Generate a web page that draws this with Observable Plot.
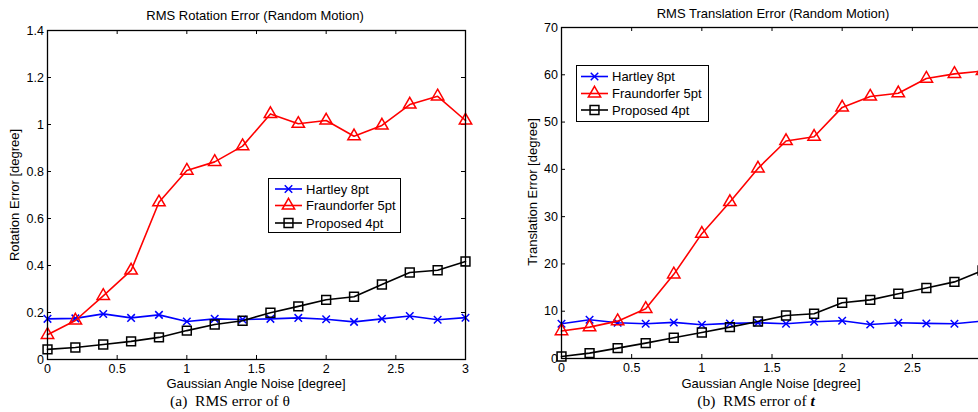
<!DOCTYPE html>
<html>
<head>
<meta charset="utf-8">
<script src="https://cdn.jsdelivr.net/npm/d3@7"></script>
<script src="https://cdn.jsdelivr.net/npm/@observablehq/plot@0.6"></script>
<style>
  html, body { margin: 0; padding: 0; background: #fff; }
  #root { position: relative; width: 978px; height: 412px; overflow: hidden; background: #fff;
          font-family: "Liberation Sans", Arial, Helvetica, sans-serif; color: #000; }
  .abs { position: absolute; white-space: nowrap; transform: translate(-50%, -50%); }
  .t13 { font-size: 13px; }
  .ylab { transform: translate(-50%, -50%) rotate(-90deg); }
  .cap { font-family: "Liberation Serif", "Times New Roman", serif; font-size: 15.5px; }
  .legend { position: absolute; border: 1px solid #000; background: #fff; box-sizing: border-box; }
  .panel { position: absolute; top: 0; }
</style>
</head>
<body>
<div id="root"></div>
<script>
// ---- data ----
const noise = [0, 0.2, 0.4, 0.6, 0.8, 1.0, 1.2, 1.4, 1.6, 1.8, 2.0, 2.2, 2.4, 2.6, 2.8, 3.0];
const seriesNames = ["Hartley 8pt", "Fraundorfer 5pt", "Proposed 4pt"];

const rotHartley     = [0.173, 0.175, 0.194, 0.177, 0.190, 0.162, 0.173, 0.170, 0.173, 0.177, 0.171, 0.160, 0.173, 0.185, 0.169, 0.178];
const rotFraundorfer = [0.105, 0.166, 0.271, 0.379, 0.669, 0.804, 0.841, 0.908, 1.045, 1.003, 1.017, 0.950, 0.996, 1.085, 1.120, 1.017];
const rotProposed    = [0.043, 0.051, 0.064, 0.077, 0.094, 0.123, 0.149, 0.165, 0.199, 0.226, 0.254, 0.267, 0.319, 0.370, 0.380, 0.417];

const transHartley     = [7.35, 8.2, 7.56, 7.35, 7.63, 7.13, 7.42, 7.56, 7.35, 7.77, 7.98, 7.2, 7.56, 7.42, 7.35, 7.9];
const transFraundorfer = [5.8, 6.64, 7.9, 10.5, 17.8, 26.4, 33.1, 40.2, 46.0, 46.9, 53.1, 55.4, 56.1, 59.2, 60.2, 60.8];
const transProposed    = [0.42, 1.13, 2.19, 3.25, 4.38, 5.5, 6.64, 7.83, 9.1, 9.46, 11.8, 12.4, 13.7, 14.9, 16.2, 18.6];

const xTicks = [0, 0.5, 1, 1.5, 2, 2.5, 3];
const xTickLabelsRight = [0, 0.5, 1, 1.5, 2, 2.5]; // the "3" label lies past the picture's right edge
const rotTicks = [0, 0.2, 0.4, 0.6, 0.8, 1.0, 1.2, 1.4];
const transTicks = [0, 10, 20, 30, 40, 50, 60, 70];

// ---- styles ----
const styles = [
  {color: "#0000ff", symbol: "times", r: 3.5},
  {color: "#ff0000", symbol: "triangle", r: 4.6},
  {color: "#000000", symbol: "square", r: 5.0}
];

function panel({series, yDomain, yTicks, xLabelTicks, width, mL, mR, mT, mB}) {
  const H = 412;
  const iw = width - mL - mR, ih = H - mT - mB;
  const marks = [
    Plot.ruleX(xTicks, {x: d => d, insetTop: ih - 4, stroke: "#000", strokeWidth: 1}),
    Plot.ruleX(xTicks, {x: d => d, insetBottom: ih - 4, stroke: "#000", strokeWidth: 1}),
    Plot.ruleY(yTicks, {y: d => d, insetRight: iw - 4, stroke: "#000", strokeWidth: 1}),
    Plot.ruleY(yTicks, {y: d => d, insetLeft: iw - 4, stroke: "#000", strokeWidth: 1}),
  ];
  series.forEach((vals, i) => {
    const rows = noise.map((x, j) => ({x, y: vals[j]}));
    const s = styles[i];
    marks.push(Plot.line(rows, {x: "x", y: "y", stroke: s.color, strokeWidth: 1.6}));
    marks.push(Plot.dot(rows, {x: "x", y: "y", stroke: s.color, fill: "none", symbol: s.symbol, r: s.r, strokeWidth: 1.5}));
  });
  marks.push(Plot.frame({stroke: "#000", strokeWidth: 1.3}));
  return Plot.plot({
    width, height: H,
    marginLeft: mL, marginRight: mR, marginTop: mT, marginBottom: mB,
    style: {fontFamily: '"Liberation Sans", Arial, sans-serif', fontSize: "12.5px", color: "#000", background: "transparent", overflow: "visible"},
    x: {domain: [0, 3], ticks: xLabelTicks, tickSize: 0, tickPadding: 5, tickFormat: d3.format("~g"), label: null},
    y: {domain: yDomain, ticks: yTicks, tickSize: 0, tickPadding: 3.5, tickFormat: d3.format("~g"), label: null},
    marks
  });
}

const root = document.getElementById("root");

const left = panel({series: [rotHartley, rotFraundorfer, rotProposed], yDomain: [0, 1.4], yTicks: rotTicks,
  xLabelTicks: xTicks, width: 490, mL: 47, mR: 25, mT: 30, mB: 53});
left.classList.add("panel"); left.style.left = "0px";
root.appendChild(left);

const right = panel({series: [transHartley, transFraundorfer, transProposed], yDomain: [0, 70], yTicks: transTicks,
  xLabelTicks: xTickLabelsRight, width: 510, mL: 71, mR: 18, mT: 27, mB: 54});
right.classList.add("panel"); right.style.left = "490px";
root.appendChild(right);

function text(html, x, y, cls) {
  const d = document.createElement("div");
  d.className = "abs " + cls;
  d.style.left = x + "px"; d.style.top = y + "px";
  d.innerHTML = html;
  root.appendChild(d);
}
text("RMS Rotation Error (Random Motion)", 255, 15, "t13");
text("RMS Translation Error (Random Motion)", 773, 13, "t13");
text("Gaussian Angle Noise [degree]", 256, 383, "t13");
text("Gaussian Angle Noise [degree]", 771, 383, "t13");
text("Rotation Error [degree]", 14, 195, "t13 ylab");
text("Translation Error [degree]", 532, 192, "t13 ylab");
text("(a)&nbsp;&nbsp;RMS error of θ", 230, 401, "cap");
text("(b)&nbsp;&nbsp;RMS error of <b><i>t</i></b>", 756, 401, "cap");

function legend(x, y, w, h, rowYs, lineX0, lineX1, textX) {
  const box = document.createElement("div");
  box.className = "legend";
  Object.assign(box.style, {left: x + "px", top: y + "px", width: w + "px", height: h + "px"});
  const svgNS = "http://www.w3.org/2000/svg";
  const svg = document.createElementNS(svgNS, "svg");
  svg.setAttribute("width", w); svg.setAttribute("height", h);
  svg.style.position = "absolute"; svg.style.left = "-1px"; svg.style.top = "-1px";
  const symMap = {times: d3.symbolTimes, triangle: d3.symbolTriangle, square: d3.symbolSquare};
  seriesNames.forEach((name, i) => {
    const s = styles[i];
    const cy = rowYs[i];
    const ln = document.createElementNS(svgNS, "line");
    ln.setAttribute("x1", lineX0); ln.setAttribute("x2", lineX1);
    ln.setAttribute("y1", cy); ln.setAttribute("y2", cy);
    ln.setAttribute("stroke", s.color); ln.setAttribute("stroke-width", 1.6);
    svg.appendChild(ln);
    const p = document.createElementNS(svgNS, "path");
    p.setAttribute("d", d3.symbol(symMap[s.symbol], Math.PI * s.r * s.r)());
    p.setAttribute("transform", `translate(${(lineX0 + lineX1) / 2},${cy})`);
    p.setAttribute("fill", "none"); p.setAttribute("stroke", s.color); p.setAttribute("stroke-width", 1.5);
    svg.appendChild(p);
    const t = document.createElementNS(svgNS, "text");
    t.setAttribute("x", textX); t.setAttribute("y", cy);
    t.setAttribute("dy", "0.35em");
    t.setAttribute("font-size", "13px");
    t.setAttribute("font-family", '"Liberation Sans", Arial, sans-serif');
    t.textContent = name;
    svg.appendChild(t);
  });
  box.appendChild(svg);
  root.appendChild(box);
}
legend(268, 178, 133, 55, [11, 27.5, 45], 7, 34, 38);
legend(576, 65, 133, 57, [11.5, 28.5, 45], 5, 32, 36);
</script>
</body>
</html>
